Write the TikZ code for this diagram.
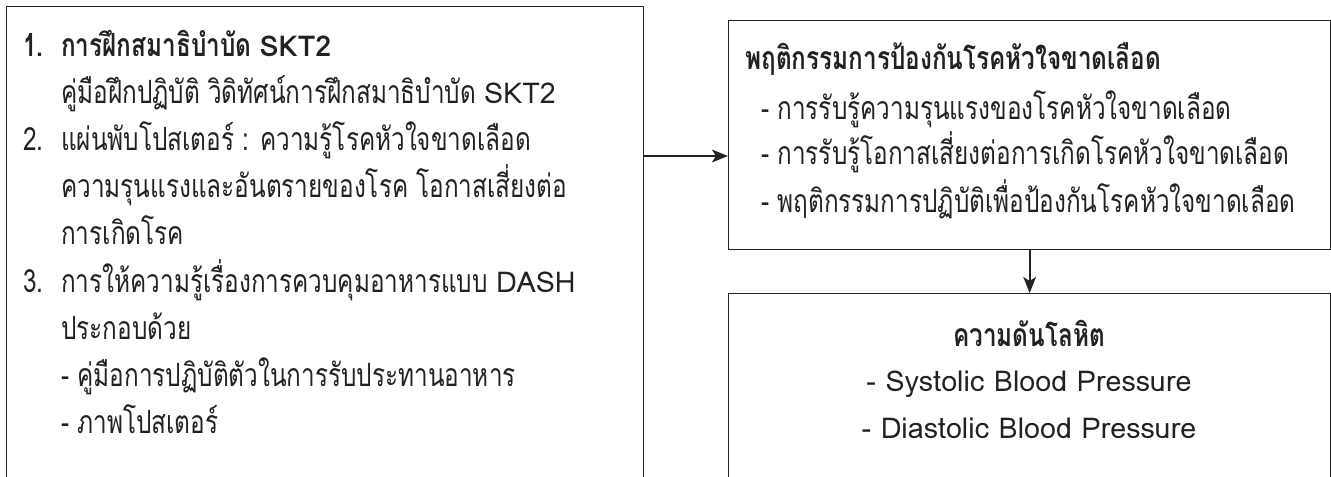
\documentclass[tikz,border=0pt]{standalone}
\usepackage{fontspec}
\newfontfamily\thaif[Script=Thai,FakeStretch=0.76]{Loma}
\newfontfamily\latnf{Loma}
\newcommand\latx[1]{{\latnf\fontsize{21.5}{26}\selectfont #1}}
\usetikzlibrary{arrows.meta}
\definecolor{ink}{HTML}{222222}
\begin{document}
\begin{tikzpicture}[x=0.75pt,y=-0.75pt,
  box/.style={draw=ink,line width=1pt,rectangle,inner sep=0pt,anchor=north west},
  txt/.style={inner sep=0pt,anchor=base west,text=ink,font=\thaif\fontsize{24}{28}\selectfont},
  btxt/.style={txt,font=\thaif\bfseries\fontsize{24}{28}\selectfont},
  ctxt/.style={txt,anchor=base},
  cbtxt/.style={btxt,anchor=base},
  conn/.style={draw=ink,line width=1.7pt,-{Stealth[length=12pt,width=9.5pt,inset=3pt]}}]
\useasboundingbox (0,0) rectangle (1331,477);
\clip (0,0) rectangle (1331,477);
% boxes
\node[box,minimum width=637*0.75pt,minimum height=500*0.75pt] (left) at (6,6) {};
\node[box,minimum width=602*0.75pt,minimum height=229*0.75pt] (top) at (728,20) {};
\node[box,minimum width=602*0.75pt,minimum height=200*0.75pt] (bot) at (728,293) {};
% left text
\node[btxt] (n1) at (23,57) {1.};
\node[btxt] (l1) at (61,57) {การฝึกสมาธิบำบัด \latx{SKT2}};
\node[txt] (l2) at (61,104) {คู่มือฝึกปฏิบัติ วิดิทัศน์การฝึกสมาธิบำบัด \latx{SKT2}};
\node[txt] (n2) at (23,151) {2.};
\node[txt] (l3) at (61,151) {แผ่นพับโปสเตอร์ : ความรู้โรคหัวใจขาดเลือด};
\node[txt] (l4) at (61,198) {ความรุนแรงและอันตรายของโรค โอกาสเสี่ยงต่อ};
\node[txt] (l5) at (61,245) {การเกิดโรค};
\node[txt] (n3) at (23,292) {3.};
\node[txt] (l6) at (61,292) {การให้ความรู้เรื่องการควบคุมอาหารแบบ \latx{DASH}};
\node[txt] (l7) at (61,339) {ประกอบด้วย};
\node[txt] (l8) at (61,386) {- คู่มือการปฏิบัติตัวในการรับประทานอาหาร};
\node[txt] (l9) at (61,433) {- ภาพโปสเตอร์};
% top right text
\node[btxt] (h1) at (745,70) {พฤติกรรมการป้องกันโรคหัวใจขาดเลือด};
\node[txt] (r1) at (761,120) {- การรับรู้ความรุนแรงของโรคหัวใจขาดเลือด};
\node[txt] (r2) at (761,165) {- การรับรู้โอกาสเสี่ยงต่อการเกิดโรคหัวใจขาดเลือด};
\node[txt] (r3) at (761,213) {- พฤติกรรมการปฏิบัติเพื่อป้องกันโรคหัวใจขาดเลือด};
% bottom right text
\node[cbtxt] (h2) at (1029,346) {ความดันโลหิต};
\node[ctxt] (b1) at (1029,391) {\latx{- Systolic Blood Pressure}};
\node[ctxt] (b2) at (1029,438) {\latx{- Diastolic Blood Pressure}};
% connectors
\coordinate (ay) at (0,156);
\draw[conn] (left.east |- ay) -- (top.west |- ay);
\draw[conn] (top.south) -- (bot.north);
\end{tikzpicture}
\end{document}
